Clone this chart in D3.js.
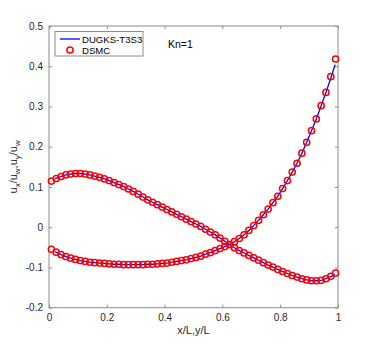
<!DOCTYPE html>
<html>
<head>
<meta charset="utf-8">
<style>
body { margin: 0; background: #fff; }
text { font-family: "Liberation Sans", Arial, sans-serif; }
</style>
</head>
<body>
<svg id="chart"></svg>
<script src="https://cdnjs.cloudflare.com/ajax/libs/d3/7.8.5/d3.min.js"></script>
<script>
// DSMC sample positions: 60 cell centres
var dsmcX = d3.range(60).map(function(i) { return (i + 0.5) / 60; });

// profile that starts near 0.115 (DSMC)
var dsmcA = [
  0.1146, 0.121, 0.126, 0.130, 0.132, 0.1335, 0.1335, 0.132, 0.130, 0.127,
  0.124, 0.120, 0.116, 0.111, 0.106, 0.101, 0.095, 0.089, 0.082, 0.075,
  0.068, 0.062, 0.056, 0.050, 0.044, 0.038, 0.032, 0.026, 0.020, 0.014,
  0.008, 0.002, -0.005, -0.012, -0.019, -0.027, -0.035, -0.043, -0.051, -0.058,
  -0.064, -0.070, -0.076, -0.082, -0.088, -0.094, -0.099, -0.105, -0.110, -0.115,
  -0.120, -0.124, -0.128, -0.131, -0.133, -0.133, -0.132, -0.128, -0.122, -0.114
];

// profile that ends near 0.42 (DSMC)
var dsmcB = [
  -0.055, -0.062, -0.068, -0.073, -0.077, -0.080, -0.083, -0.085, -0.087, -0.088,
  -0.089, -0.090, -0.091, -0.092, -0.092, -0.093, -0.093, -0.093, -0.093, -0.093,
  -0.092, -0.092, -0.091, -0.090, -0.089, -0.087, -0.085, -0.083, -0.081, -0.078,
  -0.075, -0.072, -0.067, -0.063, -0.058, -0.053, -0.048, -0.043, -0.036, -0.028,
  -0.019, -0.008, 0.004, 0.017, 0.031, 0.045, 0.061, 0.077, 0.096, 0.116,
  0.137, 0.159, 0.184, 0.211, 0.240, 0.269, 0.302, 0.335, 0.374, 0.418
];

// DUGKS-T3S3 solution
var dugksX = [
  0.021, 0.0417, 0.0583, 0.075, 0.0917, 0.1083, 0.125, 0.1417, 0.1583, 0.175,
  0.1917, 0.2083, 0.225, 0.2417, 0.2583, 0.275, 0.2917, 0.3083, 0.325, 0.3417,
  0.3583, 0.375, 0.3917, 0.4083, 0.425, 0.4417, 0.4583, 0.475, 0.4917, 0.5083,
  0.525, 0.5417, 0.5583, 0.575, 0.5917, 0.6083, 0.625, 0.6417, 0.6583, 0.675,
  0.6917, 0.7083, 0.725, 0.7417, 0.7583, 0.775, 0.7917, 0.8083, 0.825, 0.8417,
  0.8583, 0.875, 0.8917, 0.9083, 0.925, 0.9417, 0.9583, 0.975, 0.990
];
var dugksA = [
  0.1205, 0.126, 0.130, 0.132, 0.1335, 0.1335, 0.132, 0.130, 0.127,
  0.124, 0.120, 0.116, 0.111, 0.106, 0.101, 0.095, 0.089, 0.082, 0.075,
  0.068, 0.062, 0.056, 0.050, 0.044, 0.038, 0.032, 0.026, 0.020, 0.014,
  0.008, 0.002, -0.005, -0.012, -0.019, -0.027, -0.035, -0.043, -0.051, -0.058,
  -0.064, -0.070, -0.076, -0.082, -0.088, -0.094, -0.099, -0.105, -0.110, -0.115,
  -0.120, -0.124, -0.128, -0.131, -0.133, -0.133, -0.132, -0.128, -0.123, -0.118
];
var dugksB = [
  -0.061, -0.068, -0.073, -0.077, -0.080, -0.083, -0.085, -0.087, -0.088,
  -0.089, -0.090, -0.091, -0.092, -0.092, -0.093, -0.093, -0.093, -0.093, -0.093,
  -0.092, -0.092, -0.091, -0.090, -0.089, -0.087, -0.085, -0.083, -0.081, -0.078,
  -0.075, -0.072, -0.067, -0.063, -0.058, -0.053, -0.048, -0.043, -0.036, -0.028,
  -0.019, -0.008, 0.004, 0.017, 0.031, 0.045, 0.061, 0.077, 0.096, 0.116,
  0.137, 0.159, 0.184, 0.211, 0.240, 0.269, 0.302, 0.335, 0.370, 0.404
];

var xTicks = [0, 0.2, 0.4, 0.6, 0.8, 1];
var yTicks = [-0.2, -0.1, 0, 0.1, 0.2, 0.3, 0.4, 0.5];
var legendNames = ['DUGKS-T3S3', 'DSMC'];

var width = 374, height = 346;
var plotL = 49, plotR = 338, plotT = 26, plotB = 307.7;
var axisColor = '#262626', frameColor = '#8c8c8c';

var svg = d3.select('#chart').attr('width', width).attr('height', height);

var x = d3.scaleLinear().domain([0, 1]).range([plotL, plotR]);
var y = d3.scaleLinear().domain([-0.2, 0.5]).range([plotB, plotT]);

// plain hyphen minus, like the original figure
var fmt = function(d) { return String(+d.toFixed(2)); };

// frame
svg.append('rect')
  .attr('x', plotL).attr('y', plotT)
  .attr('width', plotR - plotL).attr('height', plotB - plotT)
  .attr('fill', 'none').attr('stroke', frameColor).attr('stroke-width', 1);

function styleAxis(g) {
  g.select('.domain').remove();
  g.selectAll('.tick line').attr('stroke', frameColor);
  g.selectAll('.tick text').attr('fill', axisColor).attr('font-size', 10)
    .attr('font-family', '"Liberation Sans", Arial, sans-serif');
}

svg.append('g').attr('transform', 'translate(0,' + plotB + ')')
  .call(d3.axisBottom(x).tickValues(xTicks).tickSizeInner(-3).tickPadding(6).tickFormat(fmt))
  .call(styleAxis);
svg.append('g').attr('transform', 'translate(0,' + plotT + ')')
  .call(d3.axisTop(x).tickValues(xTicks).tickSizeInner(-3).tickFormat(''))
  .call(styleAxis);
svg.append('g').attr('transform', 'translate(' + plotL + ',0)')
  .call(d3.axisLeft(y).tickValues(yTicks).tickSizeInner(-3).tickPadding(6).tickFormat(fmt))
  .call(styleAxis);
svg.append('g').attr('transform', 'translate(' + plotR + ',0)')
  .call(d3.axisRight(y).tickValues(yTicks).tickSizeInner(-3).tickFormat(''))
  .call(styleAxis);

// lines
var line = d3.line()
  .x(function(d) { return x(d[0]); })
  .y(function(d) { return y(d[1]); });

[dugksA, dugksB].forEach(function(vals) {
  svg.append('path')
    .datum(dugksX.map(function(v, i) { return [v, vals[i]]; }))
    .attr('fill', 'none').attr('stroke', '#0000ff').attr('stroke-width', 1.3)
    .attr('d', line);
});

// markers
[dsmcA, dsmcB].forEach(function(vals) {
  svg.append('g').selectAll('circle')
    .data(dsmcX.map(function(v, i) { return [v, vals[i]]; }))
    .enter().append('circle')
    .attr('cx', function(d) { return x(d[0]); })
    .attr('cy', function(d) { return y(d[1]); })
    .attr('r', 3.1)
    .attr('fill', 'none').attr('stroke', '#ff0000').attr('stroke-width', 1.5);
});

// legend
var lg = svg.append('g');
lg.append('rect').attr('x', 55).attr('y', 31.5).attr('width', 88).attr('height', 24.5)
  .attr('fill', '#fff').attr('stroke', frameColor).attr('stroke-width', 1);
lg.append('line').attr('x1', 60).attr('x2', 80).attr('y1', 39).attr('y2', 39)
  .attr('stroke', '#0000ff').attr('stroke-width', 1.3);
lg.append('circle').attr('cx', 70).attr('cy', 50).attr('r', 3.1)
  .attr('fill', 'none').attr('stroke', '#ff0000').attr('stroke-width', 1.5);
lg.selectAll('text.lbl').data(legendNames).enter().append('text')
  .attr('x', 82).attr('y', function(d, i) { return 42.5 + i * 11; })
  .attr('font-size', 9.6).attr('fill', '#000')
  .text(function(d) { return d; });

svg.append('text').attr('x', 168).attr('y', 48)
  .attr('font-size', 10.5).attr('fill', '#000').text('Kn=1');

// axis labels
svg.append('text').attr('x', (plotL + plotR) / 2).attr('y', 334)
  .attr('text-anchor', 'middle').attr('font-size', 11).attr('fill', axisColor)
  .text('x/L,y/L');

var yl = svg.append('text')
  .attr('transform', 'translate(17,' + ((plotT + plotB) / 2) + ') rotate(-90)')
  .attr('text-anchor', 'middle').attr('font-size', 11).attr('fill', axisColor);
yl.append('tspan').text('u');
yl.append('tspan').attr('dy', 3).attr('font-size', 8).text('x');
yl.append('tspan').attr('dy', -3).text('/u');
yl.append('tspan').attr('dy', 3).attr('font-size', 8).text('w');
yl.append('tspan').attr('dy', -3).text(',u');
yl.append('tspan').attr('dy', 3).attr('font-size', 8).text('y');
yl.append('tspan').attr('dy', -3).text('/u');
yl.append('tspan').attr('dy', 3).attr('font-size', 8).text('w');
</script>
</body>
</html>
